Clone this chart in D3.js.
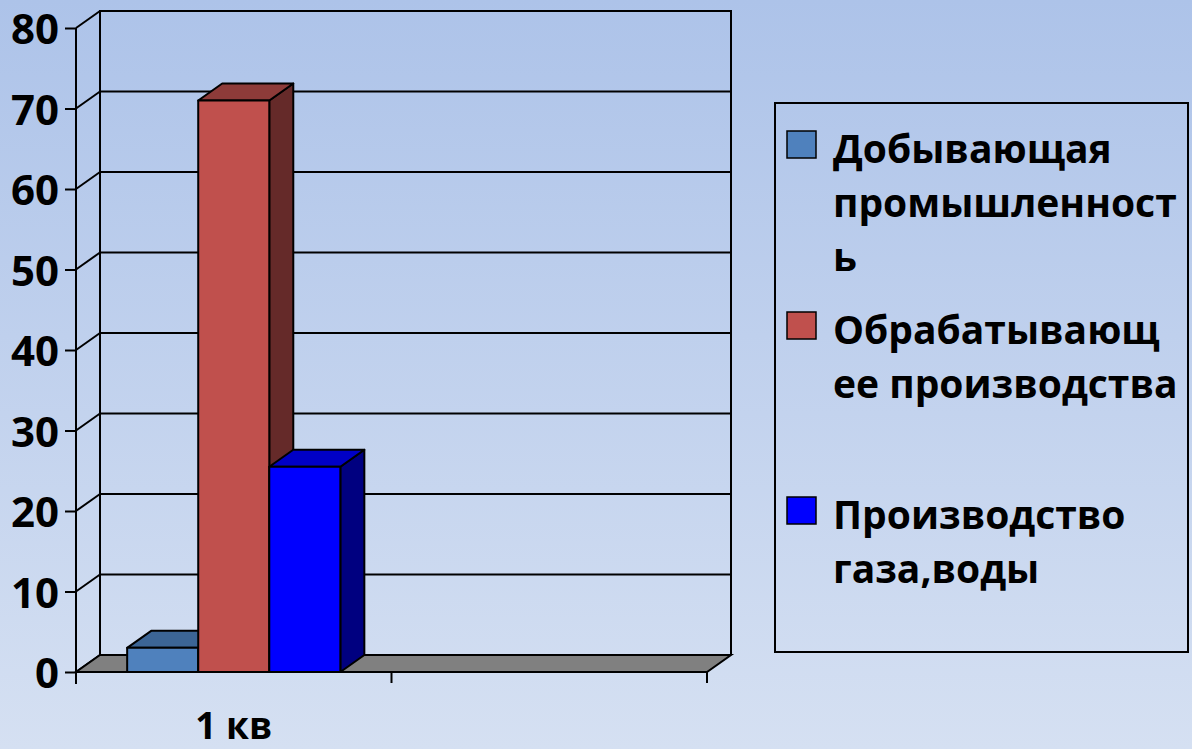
<!DOCTYPE html>
<html>
<head>
<meta charset="utf-8">
<script src="https://cdn.jsdelivr.net/npm/d3@7"></script>
<style>
  html, body { margin: 0; padding: 0; }
  body { width: 1192px; height: 749px; overflow: hidden; }
  text { font-family: "Open Sans", "Noto Sans", sans-serif; font-weight: bold; fill: #000; }
</style>
</head>
<body>
<div id="chart"></div>
<script>
// data
const categories = ["1 кв", ""];
const seriesNames = ["Добывающая промышленность", "Обрабатывающее производства", "Производство газа,воды"];
const values = [3, 71, 25.5]; // only the first quarter has data
const yTicks = [0, 10, 20, 30, 40, 50, 60, 70, 80];
const legendLines = [
  ["Добывающая", "промышленност", "ь"],
  ["Обрабатывающ", "ее производства"],
  ["Производство", "газа,воды"]
];
const colors = [
  { front: "#4f81bd", top: "#3c6595", side: "#2e4f75" },
  { front: "#c0504d", top: "#8d3b39", side: "#652a29" },
  { front: "#0000ff", top: "#0000c6", side: "#000080" }
];

const width = 1192, height = 749;
const depthX = 24, depthY = -17;   // 3d depth of the walls and columns

const svg = d3.select("#chart").append("svg")
  .attr("width", width)
  .attr("height", height);

const grad = svg.append("defs").append("linearGradient")
  .attr("id", "bg")
  .attr("x1", 0).attr("y1", 0).attr("x2", 0).attr("y2", 1);
grad.append("stop").attr("offset", "0%").attr("stop-color", "#adc3e9");
grad.append("stop").attr("offset", "100%").attr("stop-color", "#d5e0f2");

svg.append("rect")
  .attr("width", width)
  .attr("height", height)
  .attr("fill", "url(#bg)");

const y = d3.scaleLinear().domain([0, 80]).range([672, 28]);
const x = d3.scaleBand().domain(categories).range([76, 707]);
const inner = d3.scaleBand()
  .domain(d3.range(seriesNames.length))
  .range([0, x.bandwidth()])
  .paddingOuter(0.72)
  .paddingInner(0);

const x0 = x.range()[0], x1 = x.range()[1];
const line = d3.line();

// back wall
svg.append("path")
  .attr("d", line([[x0 + depthX, y(0) + depthY], [x0 + depthX, y(80) + depthY], [x1 + depthX, y(80) + depthY], [x1 + depthX, y(0) + depthY]]))
  .attr("fill", "none")
  .attr("stroke", "#000")
  .attr("stroke-width", 2);

// gridlines: back wall + side wall
const grid = svg.append("g").attr("stroke", "#000").attr("stroke-width", 2).attr("fill", "none");
grid.selectAll(".back")
  .data(yTicks.filter(d => d > 0))
  .join("line")
  .attr("x1", x0 + depthX).attr("x2", x1 + depthX)
  .attr("y1", d => y(d) + depthY).attr("y2", d => y(d) + depthY);
grid.selectAll(".side")
  .data(yTicks)
  .join("path")
  .attr("d", d => line([[x0, y(d)], [x0 + depthX, y(d) + depthY]]));

// floor
svg.append("path")
  .attr("d", line([[x0, y(0)], [x1, y(0)], [x1 + depthX, y(0) + depthY], [x0 + depthX, y(0) + depthY]]) + "Z")
  .attr("fill", "#808080")
  .attr("stroke", "#000")
  .attr("stroke-width", 2);

// y axis
const yAxis = svg.append("g")
  .attr("transform", `translate(${x0},0)`)
  .call(d3.axisLeft(y).tickValues(yTicks).tickSize(11).tickSizeOuter(0).tickPadding(6));
yAxis.select(".domain").remove();
yAxis.selectAll(".tick line").attr("stroke", "#000").attr("stroke-width", 2);
yAxis.selectAll(".tick text")
  .attr("font-family", null)
  .style("font-size", "42px")
  .attr("dy", "0.37em");
svg.append("line")
  .attr("x1", x0).attr("x2", x0)
  .attr("y1", y(80)).attr("y2", y(0) + 12)
  .attr("stroke", "#000").attr("stroke-width", 2);

// x axis line and category boundary ticks
svg.append("line")
  .attr("x1", x0).attr("x2", x1)
  .attr("y1", y(0)).attr("y2", y(0))
  .attr("stroke", "#000").attr("stroke-width", 2);
svg.selectAll(".xtick")
  .data(categories.map(c => x(c)).concat([x1]))
  .join("line")
  .attr("x1", d => d).attr("x2", d => d)
  .attr("y1", y(0)).attr("y2", y(0) + 11)
  .attr("stroke", "#000").attr("stroke-width", 2);
svg.selectAll(".xlabel")
  .data(categories)
  .join("text")
  .attr("x", d => x(d) + x.bandwidth() / 2)
  .attr("y", 739)
  .attr("text-anchor", "middle")
  .style("font-size", "37px")
  .text(d => d);

// 3d columns, drawn left to right so later ones overlap earlier ones
const bars = svg.append("g")
  .selectAll("g")
  .data(values.map((v, i) => ({ v, i })))
  .join("g")
  .attr("stroke", "#000")
  .attr("stroke-width", 2)
  .attr("stroke-linejoin", "round");

bars.each(function (d) {
  const g = d3.select(this);
  const left = x(categories[0]) + inner(d.i);
  const right = left + inner.bandwidth();
  const top = y(d.v), base = y(0);
  g.append("path")
    .attr("d", line([[right, base], [right + depthX, base + depthY], [right + depthX, top + depthY], [right, top]]) + "Z")
    .attr("fill", colors[d.i].side);
  g.append("path")
    .attr("d", line([[left, top], [left + depthX, top + depthY], [right + depthX, top + depthY], [right, top]]) + "Z")
    .attr("fill", colors[d.i].top);
  g.append("rect")
    .attr("x", left).attr("y", top)
    .attr("width", right - left).attr("height", base - top)
    .attr("fill", colors[d.i].front);
});

// legend
const legend = svg.append("g");
legend.append("rect")
  .attr("x", 775).attr("y", 103)
  .attr("width", 413).attr("height", 549)
  .attr("fill", "none")
  .attr("stroke", "#000")
  .attr("stroke-width", 2);

const legendY = [131, 312, 497];
const item = legend.selectAll(".item")
  .data(seriesNames)
  .join("g")
  .attr("transform", (d, i) => `translate(787,${legendY[i]})`);
item.append("rect")
  .attr("width", 29).attr("height", 27)
  .attr("fill", (d, i) => colors[i].front)
  .attr("stroke", "#000")
  .attr("stroke-width", 1.5);
item.append("text")
  .attr("x", 46)
  .attr("y", 32)
  .style("font-size", "39px")
  .selectAll("tspan")
  .data((d, i) => legendLines[i])
  .join("tspan")
  .attr("x", 46)
  .attr("dy", (d, j) => j === 0 ? 0 : 54)
  .text(d => d);
</script>
</body>
</html>
